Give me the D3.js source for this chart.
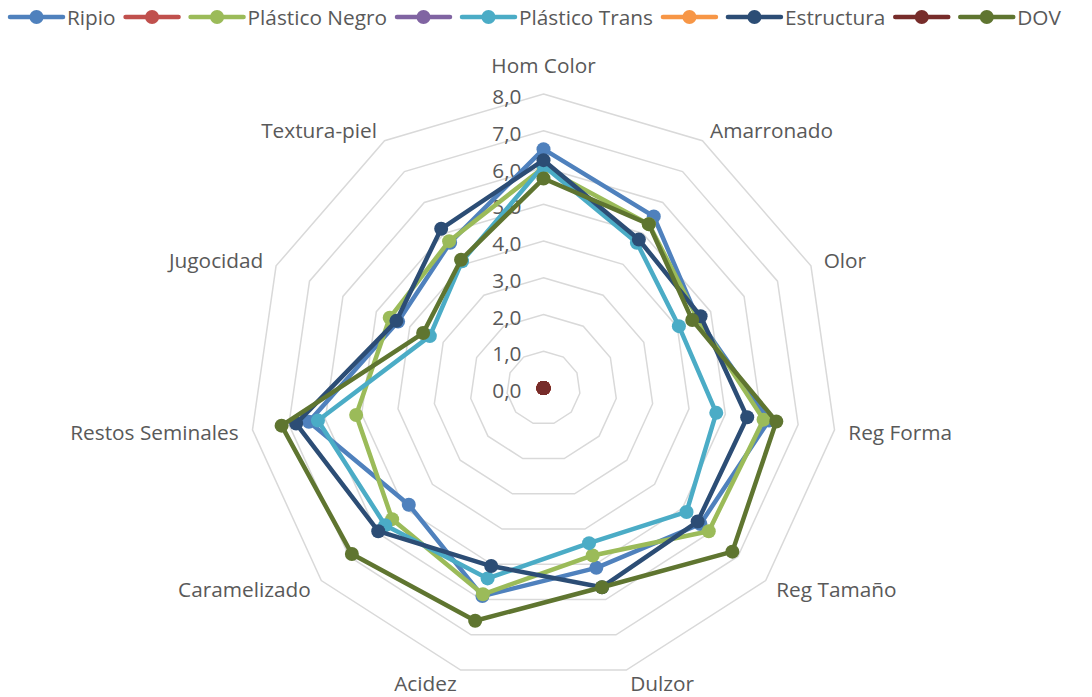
<!DOCTYPE html>
<html>
<head>
<meta charset="utf-8">
<script src="https://cdn.jsdelivr.net/npm/d3@7"></script>
<style>
    body { margin: 0; background: #fff; }
    text { font-family: "Open Sans", sans-serif; fill: #595959; }
</style>
</head>
<body>
<div id="chart"></div>
<script>
"use strict";

var axesLabels = ["Hom Color", "Amarronado", "Olor", "Reg Forma", "Reg Tamaño", "Dulzor",
    "Acidez", "Caramelizado", "Restos Seminales", "Jugocidad", "Textura-piel"];

var seriesNames = ["Ripio", "", "Plástico Negro", "", "Plástico Trans", "", "Estructura", "", "DOV"];
var seriesColors = ["#4F81BD", "#C0504D", "#9BBB59", "#8064A2", "#4BACC6", "#F79646", "#2C4D75", "#772C2A", "#5F7530"];

var ripio        = [6.5, 5.55, 4.6, 6.2, 5.65, 5.1, 5.9, 4.85, 6.45, 4.35, 4.7];
var serie2       = [0, 0, 0, 0, 0, 0, 0, 0, 0, 0, 0];
var plasticoNegro = [6.0, 5.3, 4.6, 6.05, 5.95, 4.75, 5.85, 5.45, 5.15, 4.6, 4.75];
var serie4       = [0, 0, 0, 0, 0, 0, 0, 0, 0, 0, 0];
var plasticoTrans = [6.05, 4.7, 4.05, 4.75, 5.15, 4.4, 5.4, 5.7, 6.2, 3.4, 4.1];
var serie6       = [0, 0, 0, 0, 0, 0, 0, 0, 0, 0, 0];
var estructura   = [6.2, 4.8, 4.7, 5.6, 5.55, 5.65, 5.05, 5.95, 6.8, 4.4, 5.15];
var serie8       = [0, 0, 0, 0, 0, 0, 0, 0, 0, 0, 0];
var dov          = [5.7, 5.3, 4.45, 6.4, 6.8, 5.65, 6.6, 6.9, 7.2, 3.6, 4.15];

var seriesValues = [ripio, serie2, plasticoNegro, serie4, plasticoTrans, serie6, estructura, serie8, dov];

var tickValues = [0, 1, 2, 3, 4, 5, 6, 7, 8];

var width = 1092, height = 697;
var cx = 543.5, cy = 388;
var FONT_SIZE = "20.8px";

var svg = d3.select("#chart")
    .append("svg")
    .attr("width", width)
    .attr("height", height);

var rScale = d3.scaleLinear().domain([0, 8]).range([0, 294]);
var angle = d3.scaleLinear().domain([0, axesLabels.length]).range([0, 2 * Math.PI]);

var gRadar = svg.append("g")
    .attr("transform", "translate(" + cx + "," + cy + ")");

// grid polygons
var gridLine = d3.lineRadial()
    .angle(function(d, i) { return angle(i); })
    .radius(function(d) { return rScale(d); })
    .curve(d3.curveLinearClosed);

gRadar.selectAll("path.grid")
    .data(tickValues.slice(1))
    .enter()
    .append("path")
    .attr("class", "grid")
    .attr("d", function(t) { return gridLine(axesLabels.map(function() { return t; })); })
    .attr("fill", "none")
    .attr("stroke", "#D9D9D9")
    .attr("stroke-width", 1.5);

// tick labels
gRadar.selectAll("text.tick")
    .data(tickValues)
    .enter()
    .append("text")
    .attr("class", "tick")
    .attr("text-anchor", "end")
    .attr("dominant-baseline", "central")
    .attr("x", -22)
    .attr("y", function(t) { return -rScale(t) + 2; })
    .style("font-size", FONT_SIZE)
    .text(function(t) { return d3.format(".1f")(t).replace(".", ","); });

// axis labels
gRadar.selectAll("text.axis-label")
    .data(axesLabels)
    .enter()
    .append("text")
    .attr("class", "axis-label")
    .style("font-size", FONT_SIZE)
    .attr("dominant-baseline", "central")
    .attr("text-anchor", function(d, i) {
        var s = Math.sin(angle(i));
        if (Math.abs(s) < 0.1) return "middle";
        return s > 0 ? "start" : "end";
    })
    .attr("x", function(d, i) { return (rScale(8) + 14) * Math.sin(angle(i)); })
    .attr("y", function(d, i) {
        var s = Math.sin(angle(i)), c = -Math.cos(angle(i));
        var k = Math.abs(s) < 0.1 ? 29 : 13;
        return rScale(8) * c + k * c;
    })
    .text(function(d) { return d; });

// series
var seriesLine = d3.lineRadial()
    .angle(function(d, i) { return angle(i); })
    .radius(function(d) { return rScale(d); })
    .curve(d3.curveLinearClosed);

var gSeries = gRadar.selectAll("g.series")
    .data(seriesValues)
    .enter()
    .append("g")
    .attr("class", "series");

gSeries.append("path")
    .attr("d", function(d) { return seriesLine(d); })
    .attr("fill", "none")
    .attr("stroke", function(d, i) { return seriesColors[i]; })
    .attr("stroke-width", 4.5)
    .attr("stroke-linejoin", "round");

gSeries.each(function(vals, si) {
    d3.select(this).selectAll("circle")
        .data(vals)
        .enter()
        .append("circle")
        .attr("r", 7)
        .attr("fill", seriesColors[si])
        .attr("cx", function(d, i) { return rScale(d) * Math.sin(angle(i)); })
        .attr("cy", function(d, i) { return -rScale(d) * Math.cos(angle(i)); });
});

// legend
var gLegend = svg.append("g").attr("transform", "translate(10,17)");
var lx = 0;
seriesNames.forEach(function(name, i) {
    var item = gLegend.append("g").attr("transform", "translate(" + lx + ",0)");
    item.append("line")
        .attr("x1", 0).attr("x2", 53)
        .attr("stroke", seriesColors[i])
        .attr("stroke-width", 4.5)
        .attr("stroke-linecap", "round");
    item.append("circle")
        .attr("cx", 26.5).attr("r", 7)
        .attr("fill", seriesColors[i]);
    lx += 53;
    if (name) {
        var t = item.append("text")
            .attr("x", 57)
            .attr("dominant-baseline", "central")
            .style("font-size", FONT_SIZE)
            .text(name);
        lx += 4 + t.node().getComputedTextLength() + 10;
    } else {
        lx += 12;
    }
});
</script>
</body>
</html>
